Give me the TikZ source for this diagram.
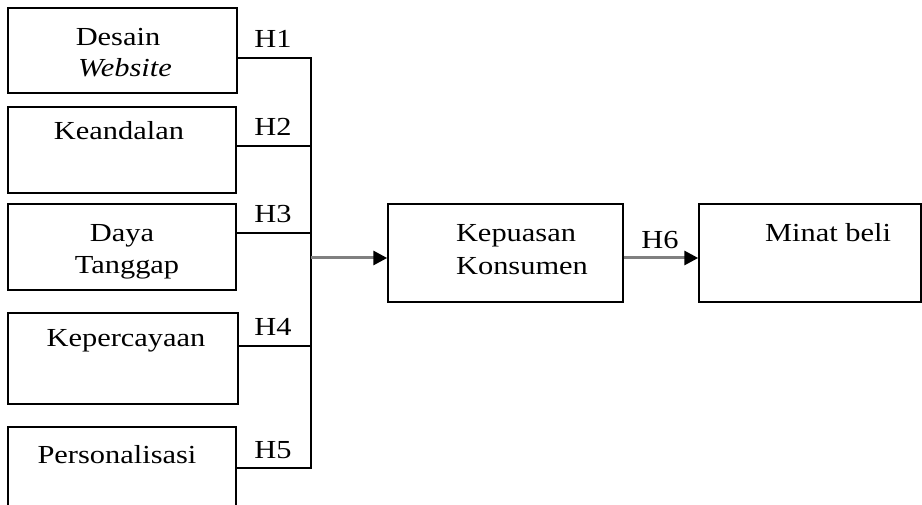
\documentclass[tikz,border=0pt]{standalone}
\usepackage{fontspec}
\setmainfont{Liberation Serif}[FakeStretch=1.17]
\usetikzlibrary{arrows.meta}
\begin{document}
\begin{tikzpicture}[x=1pt,y=-1pt,
  box/.style={draw=black,line width=1.5pt,inner sep=0pt,fill=white},
  lbl/.style={anchor=base,inner sep=0pt,font=\fontsize{26}{30}\selectfont},
  bus/.style={draw=black,line width=1.5pt},
  arr/.style={draw=black!50,line width=3pt,-{Triangle[black,length=14pt,width=14pt]}}]
\useasboundingbox (0,0) rectangle (922,505);
\fill[white] (0,0) rectangle (922,505);
\clip (0,0) rectangle (922,505);
% boxes
\node[box,minimum width=229pt,minimum height=85pt] (b1) at (122.5,50.5) {};
\node[box,minimum width=228pt,minimum height=86pt] (b2) at (122,150) {};
\node[box,minimum width=228pt,minimum height=86pt] (b3) at (122,247) {};
\node[box,minimum width=230pt,minimum height=91pt] (b4) at (123,358.5) {};
\node[box,minimum width=228pt,minimum height=88pt] (b5) at (122,471) {};
\node[box,minimum width=235pt,minimum height=98pt] (kep) at (505.5,253) {};
\node[box,minimum width=222pt,minimum height=98pt] (min) at (810,253) {};
% texts
\node[lbl] (t1a) at (118,46) {Desain};
\node[lbl] (t1b) at (125,77) {\textit{Website}};
\node[lbl] (t2) at (119,140) {Keandalan};
\node[lbl] (t3a) at (122,242) {Daya};
\node[lbl] (t3b) at (127,274) {Tanggap};
\node[lbl] (t4) at (126,347) {Kepercayaan};
\node[lbl] (t5) at (117,463) {Personalisasi};
\node[lbl] (tka) at (516,242) {Kepuasan};
\node[lbl] (tkb) at (522,275) {Konsumen};
\node[lbl] (tm) at (828,242) {Minat beli};
% junctions
\coordinate (j1) at (311,58);
\coordinate (j2) at (311,146);
\coordinate (j3) at (311,233);
\coordinate (j4) at (311,346);
\coordinate (j5) at (311,468);
\coordinate (jm) at (311,258);
% connectors
\draw[bus] (b1.east |- j1) -- (j1) -- (j5) -- (b5.east |- j5);
\draw[bus] (b2.east |- j2) -- (j2);
\draw[bus] (b3.east |- j3) -- (j3);
\draw[bus] (b4.east |- j4) -- (j4);
\draw[arr] (jm) -- (kep.west |- jm);
\draw[arr] (kep.east |- jm) -- (min.west |- jm);
% hypothesis labels
\node[lbl] (h1) at (273,48) {H1};
\node[lbl] (h2) at (273,136) {H2};
\node[lbl] (h3) at (273,223) {H3};
\node[lbl] (h4) at (273,336) {H4};
\node[lbl] (h5) at (273,458) {H5};
\node[lbl] (h6) at (660,249) {H6};
\end{tikzpicture}
\end{document}
